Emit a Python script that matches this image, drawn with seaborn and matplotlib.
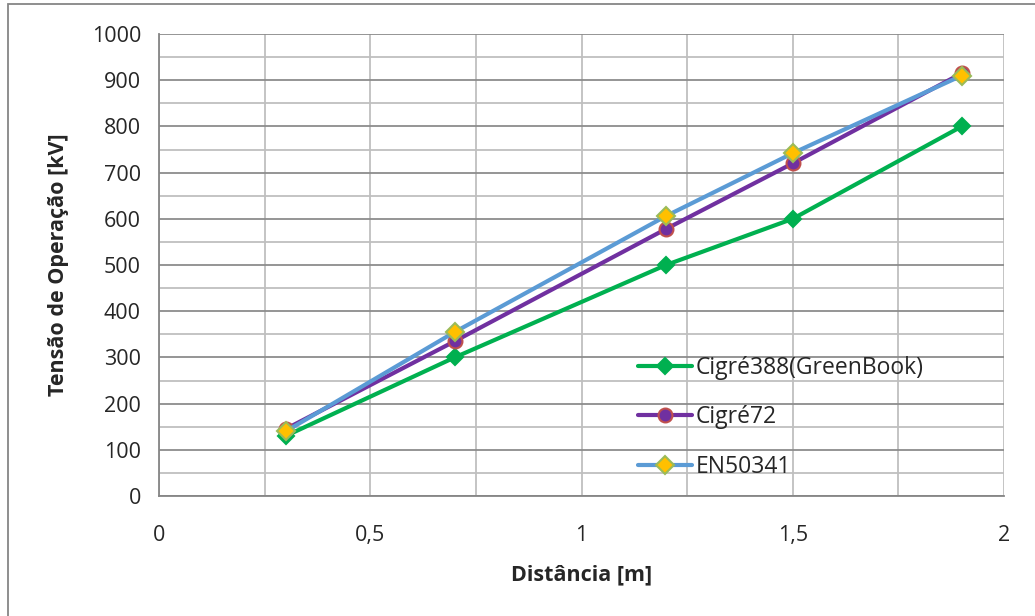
import matplotlib
matplotlib.use("Agg")
import matplotlib.pyplot as plt
import seaborn as sns
import pandas as pd
from matplotlib.ticker import MultipleLocator, FuncFormatter
from matplotlib.patches import Rectangle

distancia = [0.3, 0.7, 1.2, 1.5, 1.9]
cigre388 = [130, 300, 500, 600, 800]
cigre72 = [145, 335, 578, 720, 915]
en50341 = [140, 355, 606, 742, 910]
series_names = ["Cigré388(GreenBook)", "Cigré72", "EN50341"]

df = pd.DataFrame({
    "Distância": distancia * 3,
    "Tensão": cigre388 + cigre72 + en50341,
    "Série": [series_names[0]] * 5 + [series_names[1]] * 5 + [series_names[2]] * 5,
})

sns.set_style("white")
plt.rcParams["font.family"] = ["Open Sans", "DejaVu Sans"]

fig = plt.figure(figsize=(10.35, 6.16), dpi=100)
ax = fig.add_axes([159 / 1035, 1 - 496 / 616, (1004 - 159) / 1035, (496 - 34) / 616])

colors = {series_names[0]: "#00B050", series_names[1]: "#7030A0", series_names[2]: "#5B9BD5"}
markers = {series_names[0]: "D", series_names[1]: "o", series_names[2]: "D"}
mfc = {series_names[0]: "#00B050", series_names[1]: "#7030A0", series_names[2]: "#FFC000"}
mec = {series_names[0]: "#00B050", series_names[1]: "#C0504D", series_names[2]: "#9BBB59"}
msize = {series_names[0]: 8, series_names[1]: 10, series_names[2]: 9}

for name in series_names:
    sub = df[df["Série"] == name]
    sns.lineplot(data=sub, x="Distância", y="Tensão", ax=ax, color=colors[name],
                 linewidth=3, marker=markers[name], markersize=msize[name],
                 markerfacecolor=mfc[name], markeredgecolor=mec[name],
                 markeredgewidth=1.5, label=name, zorder=3)

ax.set_xlim(0, 2)
ax.set_ylim(0, 1000)
ax.xaxis.set_major_locator(MultipleLocator(0.5))
ax.xaxis.set_minor_locator(MultipleLocator(0.25))
ax.yaxis.set_major_locator(MultipleLocator(100))
ax.yaxis.set_minor_locator(MultipleLocator(50))
ax.xaxis.set_major_formatter(FuncFormatter(lambda v, p: ("%g" % v).replace(".", ",")))
ax.yaxis.set_major_formatter(FuncFormatter(lambda v, p: "%d" % v))

ax.grid(which="major", axis="y", color="#8C8C8C", linewidth=1.3)
ax.grid(which="minor", axis="y", color="#BFBFBF", linewidth=1.3)
ax.grid(which="both", axis="x", color="#BFBFBF", linewidth=1.3)
ax.set_axisbelow(True)

for s in ["top", "right"]:
    ax.spines[s].set_visible(False)
ax.spines["left"].set_color("#868686")
ax.spines["bottom"].set_color("#868686")
ax.spines["left"].set_linewidth(1.3)
ax.spines["bottom"].set_linewidth(1.3)

ax.tick_params(axis="both", which="major", direction="out", length=6, color="#868686",
               labelsize=15.5, width=1.3, pad=7)
ax.tick_params(axis="both", which="minor", length=0)
ax.tick_params(axis="x", pad=15)

ax.set_xlabel("Distância [m]", fontsize=15.5, fontweight="bold", labelpad=13)
ax.set_ylabel("Tensão de Operação [kV]", fontsize=15.5, fontweight="bold", labelpad=16)

leg = ax.legend(loc="center left", bbox_to_anchor=(0.567, 0.17), frameon=False,
                fontsize=16.5, handlelength=2.35, labelspacing=1.12, handletextpad=0.15,
                borderaxespad=0, borderpad=0)

fig.patches.append(Rectangle((8 / 1035, -0.05), 1.1, 1 - 4 / 616 + 0.05,
                             transform=fig.transFigure, fill=False,
                             edgecolor="#868686", linewidth=1.3))

fig.savefig("out.png", dpi=100)
